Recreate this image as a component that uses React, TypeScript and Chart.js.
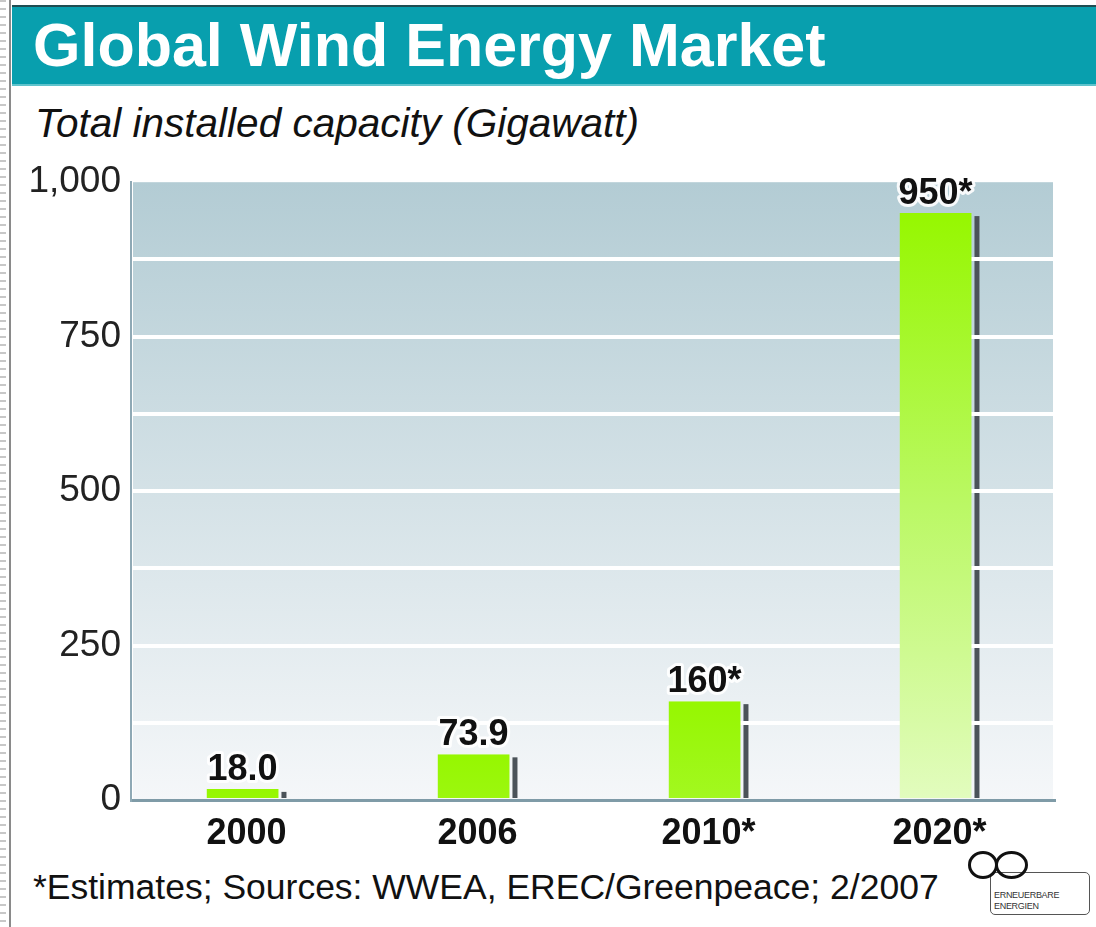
import React, { useEffect, useRef } from "react";
import { Chart, registerables } from "chart.js";

Chart.register(...registerables);

const categories = ["2000", "2006", "2010*", "2020*"];
const capacity = [18.0, 73.9, 160, 950];
const valueLabels = ["18.0", "73.9", "160*", "950*"];
const yLabelTicks = [0, 250, 500, 750, 1000];

const FONT = "'Liberation Sans', Arial, Helvetica, sans-serif";

function hexToRgb(h: string) {
  const n = parseInt(h.slice(1), 16);
  return [(n >> 16) & 255, (n >> 8) & 255, n & 255];
}
function lerpColor(a: string, b: string, t: number) {
  const A = hexToRgb(a), B = hexToRgb(b);
  const c = A.map((v, i) => Math.round(v + (B[i] - v) * t));
  return `rgb(${c[0]},${c[1]},${c[2]})`;
}

const bgPlugin = {
  id: "bgShadow",
  beforeDraw(chart: any) {
    const { ctx, chartArea } = chart;
    if (!chartArea) return;
    const { left, right, top, bottom } = chartArea;
    ctx.save();
    const g = ctx.createLinearGradient(0, top, 0, bottom);
    g.addColorStop(0, "#b3ccd4");
    g.addColorStop(1, "#f5f7f9");
    ctx.fillStyle = g;
    ctx.fillRect(left + 2, top, right - left - 4, bottom - top);
    const meta = chart.getDatasetMeta(0);
    meta.data.forEach((bar: any) => {
      const { x, y, base, width } = bar.getProps(["x", "y", "base", "width"], true);
      ctx.fillStyle = "#4b5359";
      const sx = x + width / 2 - 5;
      ctx.fillRect(sx, y + 3, 5, base - y - 3);
    });
    ctx.restore();
  },
};

const labelPlugin = {
  id: "valueLabels",
  afterDatasetsDraw(chart: any) {
    const { ctx } = chart;
    const meta = chart.getDatasetMeta(0);
    ctx.save();
    ctx.font = `bold 36px ${FONT}`;
    ctx.textAlign = "center";
    ctx.textBaseline = "alphabetic";
    ctx.lineJoin = "round";
    meta.data.forEach((bar: any, i: number) => {
      const { x, y } = bar.getProps(["x", "y"], true);
      const tx = x - 4;
      const ty = y - 9;
      ctx.lineWidth = 6;
      ctx.strokeStyle = "rgba(255,255,255,0.9)";
      ctx.strokeText(valueLabels[i], tx, ty);
      ctx.fillStyle = "#111";
      ctx.fillText(valueLabels[i], tx, ty);
    });
    ctx.restore();
  },
};

function ChartBox() {
  const ref = useRef<HTMLCanvasElement | null>(null);
  useEffect(() => {
    if (!ref.current) return;
    const chart = new Chart(ref.current, {
      type: "bar",
      data: {
        labels: categories,
        datasets: [
          {
            data: capacity,
            backgroundColor: (c: any) => {
              const ch = c.chart;
              const ys = ch.scales?.y;
              if (!ch.chartArea || !ys) return "#95f700";
              const v = c.raw as number;
              const t = ys.getPixelForValue(v);
              const b = ys.getPixelForValue(0);
              const g = ch.ctx.createLinearGradient(0, t, 0, b);
              const f = v / 1000;
              g.addColorStop(0, "#96f700");
              g.addColorStop(0.5, lerpColor("#96f700", "#bdf86a", f));
              g.addColorStop(1, lerpColor("#96f700", "#e6fcc8", f));
              return g;
            },
            borderColor: "rgba(0,0,0,0)",
            borderWidth: { top: 0, left: 0, bottom: 0, right: 8 } as any,
            borderSkipped: false,
            categoryPercentage: 1,
            barPercentage: 0.346,
          },
        ],
      },
      options: {
        animation: false,
        responsive: true,
        maintainAspectRatio: false,
        layout: { padding: { top: 28, right: 41, left: 0, bottom: 0 } },
        plugins: { legend: { display: false }, tooltip: { enabled: false } },
        scales: {
          x: {
            grid: { display: false },
            border: { color: "#7f9ba7", width: 3 },
            ticks: {
              color: "#111",
              font: { family: FONT, size: 36, weight: "bold" },
              padding: 4,
              maxRotation: 0,
            },
            afterFit: (s: any) => {
              s.height = 60;
            },
          },
          y: {
            min: 0,
            max: 1000,
            grid: {
              color: (c: any) =>
                c.tick && (c.tick.value === 0 || c.tick.value === 1000) ? "rgba(0,0,0,0)" : "#ffffff",
              lineWidth: 4,
              drawTicks: false,
            },
            border: { color: "#8fa9b5", width: 2 },
            ticks: {
              stepSize: 125,
              color: "#222",
              font: { family: FONT, size: 37 },
              padding: 10,
              callback: (v: any) =>
                yLabelTicks.includes(Number(v)) ? Number(v).toLocaleString("en-US") : "",
            },
            afterFit: (s: any) => {
              s.width = 121;
            },
          },
        },
      },
      plugins: [bgPlugin, labelPlugin],
    });
    return () => chart.destroy();
  }, []);
  return (
    <div style={{ position: "absolute", left: 10, top: 150, width: 1086, height: 710 }}>
      <canvas ref={ref} />
    </div>
  );
}

export default function App() {
  return (
    <div
      style={{
        position: "absolute",
        left: 0,
        top: 0,
        width: 1096,
        height: 927,
        overflow: "hidden",
        background: "#fff",
        fontFamily: FONT,
      }}
    >
      <div
        style={{
          position: "absolute",
          left: 0,
          top: 0,
          width: 6,
          height: 927,
          background: "repeating-linear-gradient(to bottom, #c8c8c8 0px, #c8c8c8 2px, transparent 2px, transparent 8px)",
        }}
      />
      <div style={{ position: "absolute", left: 9, top: 0, width: 2, height: 927, background: "#8a8a8a" }} />
      <div
        style={{
          position: "absolute",
          left: 12,
          top: 5,
          width: 1084,
          height: 81,
          background: "#089fae",
          borderTop: "2px solid #1f4d52",
          borderBottom: "2px solid #5fc3cc",
          boxSizing: "border-box",
        }}
      >
        <div
          style={{
            position: "absolute",
            left: 21,
            top: 0,
            height: 77,
            lineHeight: "77px",
            color: "#fff",
            fontWeight: "bold",
            fontSize: 61,
            whiteSpace: "nowrap",
          }}
        >
          Global Wind Energy Market
        </div>
      </div>
      <div
        style={{
          position: "absolute",
          left: 35,
          top: 101,
          lineHeight: "45px",
          fontSize: 40.5,
          fontStyle: "italic",
          color: "#111",
          whiteSpace: "nowrap",
        }}
      >
        Total installed capacity (Gigawatt)
      </div>
      <ChartBox />
      <div
        style={{
          position: "absolute",
          left: 33,
          top: 865,
          lineHeight: "44px",
          fontSize: 35.5,
          color: "#111",
          whiteSpace: "nowrap",
        }}
      >
        *Estimates; Sources: WWEA, EREC/Greenpeace; 2/2007
      </div>
      <div
        style={{
          position: "absolute",
          left: 990,
          top: 872,
          width: 100,
          height: 43,
          border: "1.5px solid #555",
          borderRadius: 5,
          boxSizing: "border-box",
          background: "#fff",
        }}
      >
        <div
          style={{
            position: "absolute",
            left: 3,
            top: 17,
            fontSize: 9,
            lineHeight: "11px",
            color: "#333",
            letterSpacing: -0.3,
          }}
        >
          ERNEUERBARE
          <br />
          ENERGIEN
        </div>
      </div>
      <div
        style={{
          position: "absolute",
          left: 968,
          top: 851,
          width: 30,
          height: 28,
          border: "3px solid #111",
          borderRadius: "50%",
          boxSizing: "border-box",
          background: "transparent",
        }}
      />
      <div
        style={{
          position: "absolute",
          left: 995,
          top: 851,
          width: 33,
          height: 28,
          border: "3px solid #111",
          borderRadius: "50%",
          boxSizing: "border-box",
          background: "transparent",
        }}
      />
    </div>
  );
}
